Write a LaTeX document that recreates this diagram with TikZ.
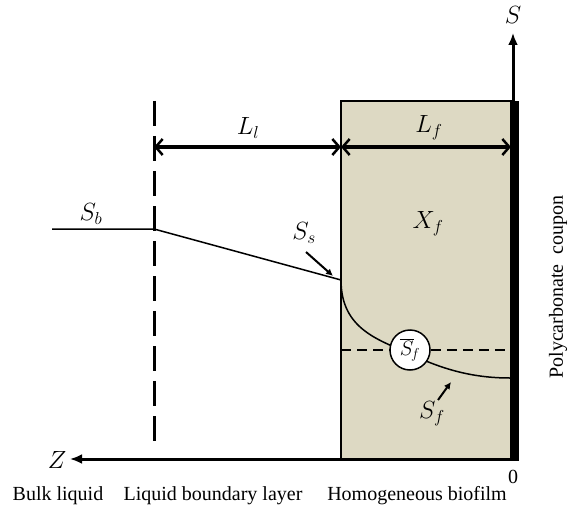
\documentclass[tikz,border=0pt]{standalone}
\usepackage{fontspec}
\setmainfont{Liberation Serif}
\usetikzlibrary{arrows.meta}
\definecolor{biofilm}{HTML}{DDD9C3}
\begin{document}
\begin{tikzpicture}[x=1pt,y=-1pt,
  font=\fontsize{20}{24}\selectfont,
  lbl/.style={inner sep=0pt},
  mlbl/.style={inner sep=0pt, font=\fontsize{23}{27}\selectfont},
  axisline/.style={line width=3pt,-{Latex[length=12pt,width=10pt]}},
  dimline/.style={line width=3pt,{Straight Barb[length=7pt,width=16pt,line width=2.5pt]}-{Straight Barb[length=7pt,width=16pt,line width=2.5pt]}},
  pointer/.style={line width=2pt,-{Latex[length=7pt,width=7pt]}},
  profile/.style={line width=1.5pt},
]
\useasboundingbox (0,0) rectangle (569,513);
% coordinates
\coordinate (O) at (513,459);
\coordinate (Stop) at (513,33);
\coordinate (Zend) at (70,459);
\coordinate (boxTL) at (341,101);
\coordinate (dTop) at (154,101);
\coordinate (dBot) at (154,447);
\coordinate (l1) at (154,147);
\coordinate (l2) at (341,147);
\coordinate (l3) at (511,147);
\coordinate (sb0) at (52,229);
\coordinate (sb1) at (154,229);
\coordinate (ss) at (341,280);
\coordinate (cf) at (410,354);
\coordinate (fend) at (510,378);
\coordinate (hd0) at (341,350);
\coordinate (hd1) at (510,350);
% biofilm box
\fill[biofilm] (boxTL) rectangle (O);
\draw[line width=2pt] (boxTL) rectangle (O);
\fill (510,101) rectangle (519,459);
% axes
\draw[axisline] (519,459) -- (Zend);
\draw[axisline] (513,101) -- (Stop);
% dashed boundary
\draw[line width=3pt, dash pattern=on 25pt off 10pt] (dTop) -- (dBot);
% dimension arrows
\draw[dimline] (l1) -- (l2);
\draw[dimline] (l2) -- (l3);
% profile
\draw[profile] (sb0) -- (sb1) -- (ss);
\draw[profile] (ss) .. controls (341,330) and (380,340) .. (cf) .. controls (440,368) and (470,378) .. (fend);
\node[circle, draw, line width=1.5pt, fill=white, minimum size=40pt, inner sep=0pt, font=\fontsize{22}{26}\selectfont] (sfbar) at (410,350) {$\overline{S}_{\!f}$};
\draw[line width=1.2pt, dash pattern=on 10pt off 6pt] (hd0) -- (sfbar.west);
\draw[line width=1.2pt, dash pattern=on 10pt off 6pt] (sfbar.east) -- (hd1);
% labels
\node[mlbl] (labS) at (513,15) {$S$};
\node[mlbl] (labZ) at (57,460) {$Z$};
\node[lbl] (lab0) at (513,477) {0};
\node[mlbl] (labLl) at (248,128) {$L_l$};
\node[mlbl] (labLf) at (429,128) {$L_f$};
\node[mlbl] (labSb) at (91,214) {$S_b$};
\node[mlbl] (labSs) at (304,233) {$S_s$};
\node[mlbl] (labXf) at (428,224) {$X_f$};
\node[mlbl] (labSf) at (432,414) {$S_f$};
\coordinate (p1a) at (306,252);
\coordinate (p1b) at (333,276);
\coordinate (p2a) at (438,400);
\coordinate (p2b) at (451,382);
\draw[pointer] (p1a) -- (p1b);
\draw[pointer] (p2a) -- (p2b);
\node[lbl] (bulk) at (58,496) {Bulk liquid};
\node[lbl] (lbl2) at (213,496) {Liquid boundary layer};
\node[lbl] (homo) at (417,496) {Homogeneous biofilm};
\node[lbl, rotate=90] (coupon) at (558,287) {Polycarbonate\ \ coupon};
\end{tikzpicture}
\end{document}
